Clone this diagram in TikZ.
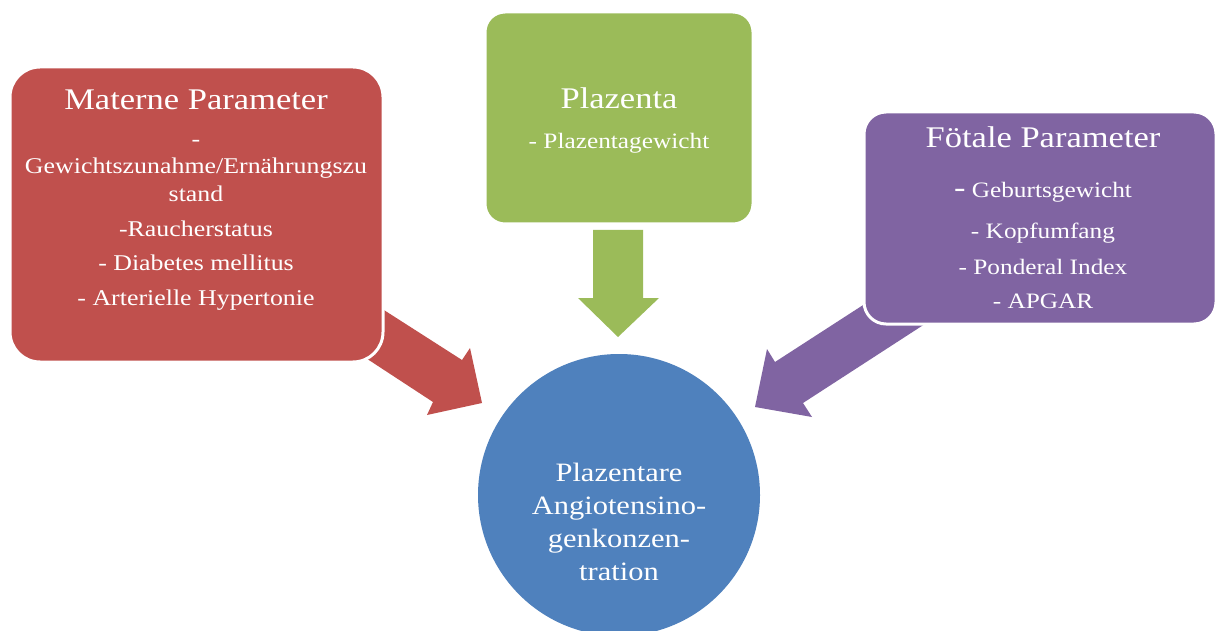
\documentclass[tikz,border=0pt]{standalone}
\usepackage{fontspec}
\setmainfont[FakeStretch=1.15]{Liberation Serif}
\definecolor{cred}{HTML}{C0504D}
\definecolor{cgreen}{HTML}{9BBB59}
\definecolor{cpurple}{HTML}{8064A2}
\definecolor{cblue}{HTML}{4F81BD}
\tikzset{
  box/.style={draw=white, line width=3pt, inner sep=0pt},
  ttl/.style={text=white, inner sep=0pt, anchor=base, font=\fontsize{30}{36}\selectfont},
  body/.style={text=white, inner sep=0pt, anchor=base, align=center}
}
\begin{document}
\begin{tikzpicture}[x=1pt,y=-1pt]
\useasboundingbox[fill=white] (0,0) rectangle (1218,631);
% block arrows (drawn first, boxes overlap their tails)
\fill[cred] (337,280) -- (462,360) -- (470,348) -- (482,403) -- (427,415) -- (433,402) -- (323,330) -- cycle;
\fill[cgreen] (593,230) -- (643,230) -- (643,298) -- (659,298) -- (618,337) -- (578,298) -- (593,298) -- cycle;
\fill[cpurple] (908,276) -- (775,362) -- (767,349) -- (755,407) -- (812,417) -- (803,403) -- (965,298) -- cycle;
% boxes
\node[box, fill=cred, rounded corners=30pt, minimum width=373pt, minimum height=295pt] (mat) at (196.5,214.5) {};
\node[box, fill=cgreen, rounded corners=20pt, minimum width=268pt, minimum height=212pt] (pla) at (619,118) {};
\node[box, fill=cpurple, rounded corners=22pt, minimum width=352pt, minimum height=212pt] (foe) at (1040,218) {};
\node[fill=cblue, circle, inner sep=0pt, minimum size=282pt] (ang) at (619,495) {};
% texts (base anchor = baseline of the last line)
\node[ttl] (matt) at (196,110) {Materne Parameter};
\node[body, font=\fontsize{22.5}{27.5}\selectfont] (matb) at (196,305) {-\\Gewichtszunahme/Ernährungszu\\stand\\[7pt]-Raucherstatus\\[7pt]- Diabetes mellitus\\[7pt]- Arterielle Hypertonie};
\node[ttl] (plat) at (619,109) {Plazenta};
\node[body, font=\fontsize{22}{27}\selectfont] (plab) at (619,149) {- Plazentagewicht};
\node[ttl] (foet) at (1043,148) {Fötale Parameter};
\node[body, font=\fontsize{22}{34}\selectfont] (foeb) at (1043,308) {{\fontsize{30}{34}\selectfont -} Geburtsgewicht\\[7pt]- Kopfumfang\\[2pt]- Ponderal Index\\- APGAR};
\node[body, font=\fontsize{26.5}{33}\selectfont] (angt) at (619,580) {Plazentare\\Angiotensino-\\genkonzen-\\tration};
\end{tikzpicture}
\end{document}
